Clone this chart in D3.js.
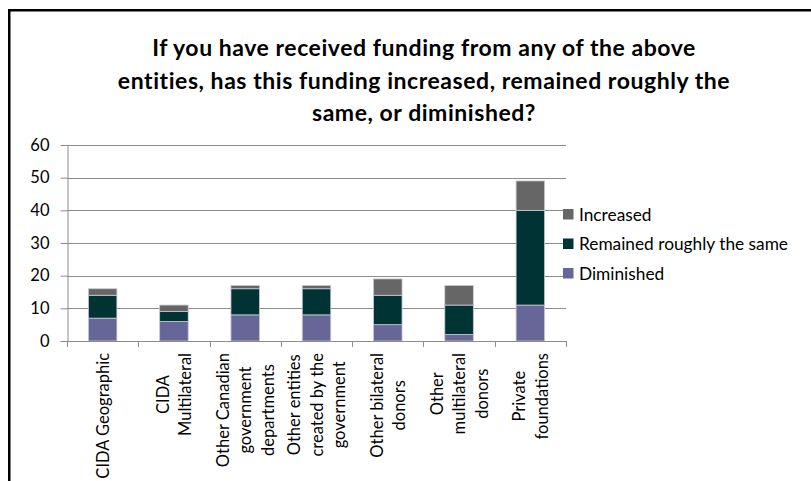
<!DOCTYPE html>
<html>
<head>
<meta charset="utf-8">
<script src="https://cdn.jsdelivr.net/npm/d3@7"></script>
<style>
  html, body { margin: 0; padding: 0; background: #fff; }
  svg { display: block; font-family: Lato, "Open Sans", sans-serif; }
</style>
</head>
<body>
<svg id="chart" width="811" height="481"></svg>
<script>
// Funding sources (axis categories), each wrapped into display lines
const categories = [
  "CIDA Geographic",
  "CIDA Multilateral",
  "Other Canadian government departments",
  "Other entities created by the government",
  "Other bilateral donors",
  "Other multilateral donors",
  "Private foundations"
];
const categoryLines = [
  ["CIDA Geographic"],
  ["CIDA", "Multilateral"],
  ["Other Canadian", "government", "departments"],
  ["Other entities", "created by the", "government"],
  ["Other bilateral", "donors"],
  ["Other", "multilateral", "donors"],
  ["Private", "foundations"]
];

// Number of respondents per answer, stacked bottom to top
const diminished = [7, 6, 8, 8, 5, 2, 11];
const remained   = [7, 3, 8, 8, 9, 9, 29];
const increased  = [2, 2, 1, 1, 5, 6, 9];

const seriesNames = ["Diminished", "Remained roughly the same", "Increased"];
const seriesColors = ["#666699", "#003333", "#666666"];
const yTicks = [0, 10, 20, 30, 40, 50, 60];

const titleLines = [
  "If you have received funding from any of the above",
  "entities, has this funding increased, remained roughly the",
  "same, or diminished?"
];

const svg = d3.select("#chart");

// Outer chart frame
svg.append("rect")
  .attr("x", 9.25).attr("y", 10.25)
  .attr("width", 900).attr("height", 600)
  .attr("fill", "none").attr("stroke", "#000").attr("stroke-width", 2.5);

// Title
const title = svg.append("text")
  .attr("text-anchor", "middle")
  .attr("font-weight", "bold")
  .attr("font-size", 23)
  .attr("letter-spacing", 0.55)
  .attr("fill", "#000");
titleLines.forEach((t, i) => {
  title.append("tspan").attr("x", 424).attr("y", 56 + i * 32.5).text(t);
});

const plot = { left: 67, right: 566, top: 145, bottom: 341 };

const x = d3.scaleBand()
  .domain(categories)
  .range([plot.left, plot.right])
  .paddingInner(0.6)
  .paddingOuter(0.3);

const y = d3.scaleLinear()
  .domain([0, 60])
  .range([plot.bottom, plot.top]);

// Horizontal gridlines
svg.append("g")
  .selectAll("line")
  .data(yTicks.filter(d => d > 0))
  .join("line")
  .attr("x1", plot.left).attr("x2", plot.right)
  .attr("y1", d => Math.round(y(d)) + 0.5)
  .attr("y2", d => Math.round(y(d)) + 0.5)
  .attr("stroke", "#8c8c8c").attr("stroke-width", 1);

// Stacked bars
const rows = categories.map((c, i) => ({
  category: c,
  "Diminished": diminished[i],
  "Remained roughly the same": remained[i],
  "Increased": increased[i]
}));
const stacked = d3.stack().keys(seriesNames)(rows);

svg.append("g")
  .selectAll("g")
  .data(stacked)
  .join("g")
  .attr("fill", (d, i) => seriesColors[i])
  .selectAll("rect")
  .data(d => d)
  .join("rect")
  .attr("x", d => x(d.data.category))
  .attr("width", x.bandwidth())
  .attr("y", d => y(d[1]))
  .attr("height", d => y(d[0]) - y(d[1]))
  .attr("stroke", "#c8c8d4")
  .attr("stroke-width", 0.8);

// Y axis
const yAxis = svg.append("g")
  .attr("transform", `translate(${plot.left + 0.5},0)`)
  .call(d3.axisLeft(y).tickValues(yTicks).tickSize(7).tickPadding(11).tickSizeOuter(0));
yAxis.select(".domain").attr("stroke", "#8c8c8c");
yAxis.selectAll(".tick line").attr("stroke", "#8c8c8c");
yAxis.selectAll(".tick text")
  .attr("font-family", "Lato, sans-serif")
  .attr("font-size", 16.5)
  .attr("fill", "#000");

// X axis line with ticks at category boundaries
const boundaries = d3.range(categories.length + 1).map(i => plot.left + i * (plot.right - plot.left) / categories.length);
const xAxisG = svg.append("g");
xAxisG.append("line")
  .attr("x1", plot.left).attr("x2", plot.right)
  .attr("y1", plot.bottom + 0.5).attr("y2", plot.bottom + 0.5)
  .attr("stroke", "#8c8c8c");
xAxisG.selectAll("line.tk")
  .data(boundaries)
  .join("line")
  .attr("class", "tk")
  .attr("x1", d => Math.round(d) + 0.5).attr("x2", d => Math.round(d) + 0.5)
  .attr("y1", plot.bottom).attr("y2", plot.bottom + 6)
  .attr("stroke", "#8c8c8c");

// Rotated, wrapped category labels; block top aligned just below axis
const labelFont = 16.5;
const lineH = 22.5;
const labelTop = 353;
categories.forEach((c, i) => {
  const lines = categoryLines[i];
  const cx = x(c) + x.bandwidth() / 2;
  const g = svg.append("g");
  const texts = lines.map(l => g.append("text")
    .attr("font-size", labelFont)
    .attr("text-anchor", "middle")
    .attr("dominant-baseline", "central")
    .attr("fill", "#000")
    .text(l));
  const maxLen = d3.max(texts, t => t.node().getComputedTextLength());
  g.attr("transform", `translate(${cx},${labelTop + maxLen / 2}) rotate(-90)`);
  texts.forEach((t, j) => t.attr("x", 0).attr("y", (j - (lines.length - 1) / 2) * lineH));
});

// Legend (top entry = last stacked series)
const legendItems = seriesNames.slice().reverse();
const legendColors = seriesColors.slice().reverse();
const legend = svg.append("g");
legendItems.forEach((name, i) => {
  const cy = 214 + i * 29.5;
  legend.append("rect")
    .attr("x", 563).attr("y", cy - 5)
    .attr("width", 10.5).attr("height", 10.5)
    .attr("fill", legendColors[i]);
  legend.append("text")
    .attr("x", 579).attr("y", cy)
    .attr("dominant-baseline", "central")
    .attr("font-size", 17.3)
    .attr("fill", "#000")
    .text(name);
});
</script>
</body>
</html>
